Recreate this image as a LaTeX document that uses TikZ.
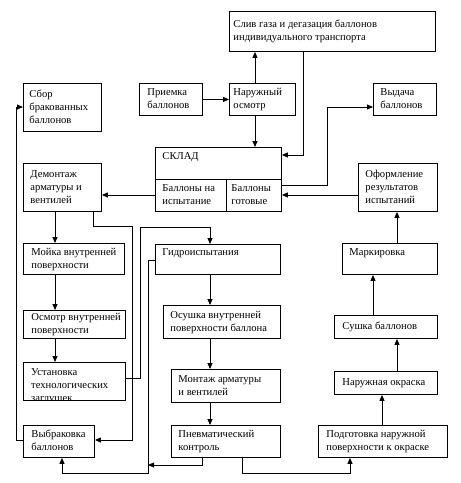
\documentclass[tikz,border=0pt]{standalone}
\usepackage{fontspec}
\setmainfont{Liberation Serif}
\usetikzlibrary{arrows.meta}
\tikzset{
  box/.style={draw, line width=0.9pt, anchor=north west, inner sep=0pt,
    font=\fontsize{10.6}{13}\selectfont},
  txt/.style={inner sep=0pt, align=left, font=\fontsize{10.6}{13}\selectfont},
  arr/.style={-{Triangle[length=6pt,width=5pt]}, line width=0.9pt},
  thinarr/.style={-{Triangle[length=6pt,width=5pt]}, line width=0.5pt},
}
% name, x, y, width, height, left padding, text
\newcommand\bx[7]{\node[box, minimum width=#4pt, minimum height=#5pt] (#1) at (#2,#3)
  {\makebox[#4pt][l]{\hspace*{#6pt}\begin{tabular}[t]{@{}l@{}}#7\end{tabular}}};}
\begin{document}
\begin{tikzpicture}[x={(1pt,0)}, y={(0,-1pt)}]
\useasboundingbox (0,0) rectangle (461,483);
\fill[white] (0,0) rectangle (461,483);
% boxes
\bx{slv}{229}{11}{206}{40}{4}{Слив газа и дегазация баллонов\\индивидуального транспорта}
\bx{priem}{139}{83}{63}{32}{8}{Приемка\\баллонов}
\bx{naruzh}{229}{83}{66}{32}{4}{Наружный\\осмотр}
\bx{vydacha}{373}{83}{63}{32}{7}{Выдача\\баллонов}
\bx{sbor}{23}{83}{78}{48}{6}{Сбор\\бракованных\\баллонов}
\bx{skladtop}{155}{147}{126}{32}{7}{СКЛАД\\\mbox{}}
\bx{ispyt}{155}{179}{71}{32}{7}{Баллоны на\\испытание}
\bx{gotov}{226}{179}{55}{32}{5}{Баллоны\\готовые}
\bx{demont}{23}{163}{78}{48}{7}{Демонтаж\\арматуры и\\вентилей}
\bx{oform}{358}{163}{79}{48}{7}{Оформление\\результатов\\испытаний}
\bx{moika}{23}{243}{101}{31}{8}{Мойка внутренней\\поверхности}
\bx{gidro}{155}{244}{125}{30}{7}{Гидроиспытания\\\mbox{}}
\bx{markir}{342}{243}{95}{31}{7}{Маркировка\\\mbox{}}
\bx{osmotr}{23}{310}{102}{28}{8}{Осмотр внутренней\\поверхности}
\bx{osushka}{163}{305}{117}{33}{7}{Осушка внутренней\\поверхности баллона}
\bx{sushka}{334}{315}{103}{23}{8}{Сушка баллонов}
\begin{scope}
\clip (23,362) rectangle (125,400);
\node[txt, anchor=base west, text width=95pt] (ustantext) at (31,375) {Установка\\технологических\\заглушек};
\end{scope}
\bx{ustan}{23}{362}{102}{38}{8}{}
\bx{montazh}{171}{369}{109}{33}{7}{Монтаж арматуры\\и вентилей}
\bx{okraska}{334}{371}{103}{23}{8}{Наружная окраска}
\bx{vybrak}{23}{425}{71}{32}{8}{Выбраковка\\баллонов}
\bx{pnevm}{171}{425}{109}{32}{7}{Пневматический\\контроль}
\bx{podgot}{318}{425}{129}{32}{8}{Подготовка наружной\\поверхности к окраске}
% routing coordinates
\coordinate (cA) at (255,0);
\coordinate (cB) at (303,155);
\coordinate (cC) at (327,185);
\coordinate (cC2) at (327,107);
\coordinate (cD) at (0,195);
\coordinate (cE) at (55,0);
\coordinate (cF) at (93,226);
\coordinate (cG) at (132,226);
\coordinate (cH) at (132,440);
\coordinate (cI) at (140,378);
\coordinate (cJ) at (140,227);
\coordinate (cK) at (210,227);
\coordinate (cL) at (148,260);
\coordinate (cM) at (148,473);
\coordinate (cN) at (62,473);
\coordinate (cO) at (202,465);
\coordinate (cP) at (148,465);
\coordinate (cQ) at (242,473);
\coordinate (cR) at (350,473);
\coordinate (cS) at (16,440);
\coordinate (cT) at (16,107);
\coordinate (cU) at (382,0);
\coordinate (cV) at (397,0);
\coordinate (cW) at (373,0);
% connectors
\draw[arr] (priem.east) -- (naruzh.west);
\draw[arr] (naruzh.north -| cA) -- (slv.south -| cA);
\draw[arr] (naruzh.south -| cA) -- (skladtop.north -| cA);
\draw[arr] (slv.south -| cB) |- (skladtop.east |- cB);
\draw[arr] (gotov.east |- cC) -- (cC) -- (cC2) -- (vydacha.west |- cC2);
\draw[arr] (oform.west |- cD) -- (gotov.east |- cD);
\draw[arr] (ispyt.west |- cD) -- (demont.east |- cD);
\draw[arr] (demont.south -| cE) -- (moika.north -| cE);
\draw[arr] (moika.south -| cE) -- (osmotr.north -| cE);
\draw[arr] (osmotr.south -| cE) -- (ustan.north -| cE);
\draw[arr] (demont.south -| cF) -- (cF) -- (cG) -- (cH) -- (vybrak.east |- cH);
\draw[arr] (ustan.east |- cI) -- (cI) -- (cJ) -- (cK) -- (gidro.north -| cK);
\draw[arr] (gidro.south -| cK) -- (osushka.north -| cK);
\draw[arr] (osushka.south -| cK) -- (montazh.north -| cK);
\draw[arr] (montazh.south -| cK) -- (pnevm.north -| cK);
\draw[arr] (gidro.west |- cL) -- (cL) -- (cM) -- (cN) -- (vybrak.south -| cN);
\draw[thinarr] (pnevm.south -| cO) -- (cO) -- (cP);
\draw[arr] (pnevm.south -| cQ) -- (cQ) -- (cR) -- (podgot.south -| cR);
\draw[arr] (podgot.north -| cU) -- (okraska.south -| cU);
\draw[arr] (okraska.north -| cV) -- (sushka.south -| cV);
\draw[arr] (sushka.north -| cW) -- (markir.south -| cW);
\draw[arr] (markir.north -| cV) -- (oform.south -| cV);
\draw[arr] (vybrak.west |- cS) -- (cS) -- (cT) -- (sbor.west |- cT);
\end{tikzpicture}
\end{document}
